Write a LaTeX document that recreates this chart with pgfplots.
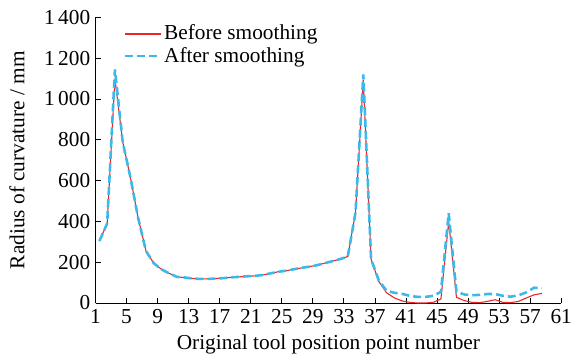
\documentclass[border=0pt]{standalone}
\usepackage{fontspec}
\setmainfont{Liberation Serif}
\usepackage{pgfplots}
\pgfplotsset{compat=1.18}
\definecolor{cred}{RGB}{232,40,40}
\definecolor{cblue}{RGB}{60,185,232}
\begin{document}
\fontsize{21.5}{25}\selectfont
\begin{tikzpicture}
\begin{axis}[
  name=ax,
  scale only axis,
  width=468bp, height=287bp,
  xmin=1, xmax=61, ymin=0, ymax=1400,
  axis lines*=left,
  axis line style={line width=0.9pt, -},
  xtick={1,5,...,61},
  xticklabels={1,5,9,13,17,21,25,29,33,37,41,45,49,53,57,61},
  ytick={0,200,...,1400},
  yticklabels={0,200,400,600,800,1\,000,1\,200,1\,400},
  tick style={line width=0.9pt, black},
  major tick length=5bp,
  tick align=inside,
  tick label style={font=\fontsize{21.5}{25}\selectfont},
  xticklabel style={yshift=1bp},
  yticklabel style={xshift=2bp},
  xlabel={Original tool position point number},
  ylabel={Radius of curvature / mm},
  label style={font=\fontsize{21.5}{25}\selectfont},
  xlabel style={yshift=3bp},
  ylabel style={yshift=5bp},
  clip=false,
  legend style={at={(rel axis cs:0.058,0.985)}, anchor=north west, draw=none, fill=none,
    font=\fontsize{21.5}{25}\selectfont, row sep=0bp, inner sep=1bp},
  legend cell align=left,
  legend image code/.code={\draw[#1] (0bp,0bp) -- (36bp,0bp);},
  every legend entry/.append style={xshift=4bp},
]
\addplot[cred, line width=1.1pt] coordinates {
(1.5,304)(2.5,390)(3.5,1100)(4.5,790)(5.5,615)(6.5,415)(7.5,255)(8.5,195)(9.5,165)(10.5,145)
(11.5,128)(12.5,125)(13.5,120)(14.5,118)(15.5,118)(16.5,120)(17.5,122)(18.5,126)(19.5,128)(20.5,131)
(21.5,133)(22.5,137)(23.5,145)(24.5,153)(25.5,158)(26.5,165)(27.5,172)(28.5,178)(29.5,185)(30.5,195)
(31.5,205)(32.5,215)(33.5,228)(34.5,445)(35.5,1095)(36.5,215)(37.5,105)(38.5,50)(39.5,25)(40.5,10)
(41.5,3)(42.5,0)(43.5,0)(44.5,3)(45.5,20)(46.5,400)(47.5,28)(48.5,12)(49.5,3)(50.5,2)
(51.5,8)(52.5,16)(53.5,3)(54.5,2)(55.5,8)(56.5,25)(57.5,40)(58.5,47)
};
\addlegendentry{Before smoothing}
\addplot[cblue, line width=2.6pt, dash pattern=on 8bp off 4bp] coordinates {
(1.5,304)(2.5,390)(3.5,1145)(4.5,790)(5.5,615)(6.5,415)(7.5,255)(8.5,195)(9.5,165)(10.5,145)
(11.5,128)(12.5,125)(13.5,120)(14.5,118)(15.5,118)(16.5,120)(17.5,122)(18.5,126)(19.5,128)(20.5,131)
(21.5,133)(22.5,137)(23.5,145)(24.5,153)(25.5,158)(26.5,165)(27.5,172)(28.5,178)(29.5,185)(30.5,195)
(31.5,205)(32.5,215)(33.5,228)(34.5,445)(35.5,1120)(36.5,215)(37.5,110)(38.5,60)(39.5,50)(40.5,45)
(41.5,35)(42.5,30)(43.5,30)(44.5,35)(45.5,55)(46.5,440)(47.5,55)(48.5,42)(49.5,38)(50.5,40)
(51.5,44)(52.5,44)(53.5,35)(54.5,31)(55.5,38)(56.5,52)(57.5,75)(58.5,72)
};
\addlegendentry{After smoothing}
\end{axis}
\path[use as bounding box] (ax.south west) ++(-96bp,-54bp) rectangle ([shift={(15bp,17.5bp)}]ax.north east);
\end{tikzpicture}
\end{document}
